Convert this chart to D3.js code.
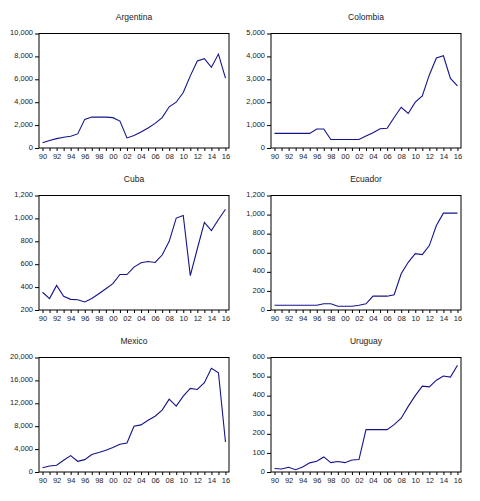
<!DOCTYPE html>
<html>
<head>
<meta charset="utf-8">
<script src="https://cdn.jsdelivr.net/npm/d3@7"></script>
<style>
  body { margin: 0; background: #fff; }
  text { font-family: "Liberation Sans", Arial, sans-serif; fill: #222; }
</style>
</head>
<body>
<div id="chart"></div>
<script>
let svgWidth = 480;
let svgHeight = 501;

// years 1990..2016
let years = d3.range(1990, 2017);
let yearLabels = ["90", "92", "94", "96", "98", "00", "02", "04", "06", "08", "10", "12", "14", "16"];

let countries = ["Argentina", "Colombia", "Cuba", "Ecuador", "Mexico", "Uruguay"];

let argentina = [450, 650, 820, 940, 1030, 1230, 2500, 2700, 2700, 2700, 2650, 2350, 880, 1100, 1400, 1750, 2150, 2650, 3600, 4000, 4850, 6300, 7600, 7800, 7050, 8200, 6100];
let colombia = [640, 640, 640, 640, 640, 640, 830, 830, 370, 370, 370, 370, 370, 520, 670, 840, 860, 1330, 1780, 1510, 2000, 2270, 3190, 3930, 4030, 3040, 2710];
let cuba = [355, 300, 415, 320, 293, 290, 270, 300, 342, 385, 430, 510, 510, 575, 612, 623, 615, 680, 800, 1003, 1025, 500, 735, 965, 893, 990, 1080];
let ecuador = [50, 50, 50, 50, 50, 50, 50, 65, 65, 40, 40, 40, 50, 65, 145, 145, 145, 160, 380, 500, 590, 580, 675, 885, 1015, 1015, 1015];
let mexico = [750, 1050, 1170, 2040, 2860, 1870, 2160, 3040, 3390, 3800, 4260, 4850, 5080, 8000, 8230, 9050, 9750, 10800, 12730, 11500, 13250, 14600, 14420, 15600, 18100, 17340, 5250];
let uruguay = [18, 16, 25, 12, 26, 48, 56, 79, 49, 55, 49, 63, 65, 222, 222, 222, 222, 248, 282, 344, 400, 450, 446, 481, 503, 497, 559];

let seriesValues = [argentina, colombia, cuba, ecuador, mexico, uruguay];

// y axis ranges and ticks per panel
let yDomains = [[0, 10000], [0, 5000], [200, 1200], [0, 1200], [0, 20000], [0, 600]];
let yTicks = [
    [0, 2000, 4000, 6000, 8000, 10000],
    [0, 1000, 2000, 3000, 4000, 5000],
    [200, 400, 600, 800, 1000, 1200],
    [0, 200, 400, 600, 800, 1000, 1200],
    [0, 4000, 8000, 12000, 16000, 20000],
    [0, 100, 200, 300, 400, 500, 600]
];

let svg = d3.select("#chart")
    .append("svg")
    .attr("width", svgWidth)
    .attr("height", svgHeight);

let plotW = 190;
let plotH = 114.5;
let colX = [39, 271];
let rowY = [33.5, 195.5, 357.5];

let fmt = d3.format(",");

countries.forEach(function (name, i) {
    let col = i % 2;
    let row = Math.floor(i / 2);

    let g = svg.append("g")
        .attr("transform", `translate(${colX[col]}, ${rowY[row]})`);

    let x = d3.scaleLinear()
        .domain([1989.5, 2016.5])
        .range([0, plotW]);

    let y = d3.scaleLinear()
        .domain(yDomains[i])
        .range([plotH, 0]);

    // title
    g.append("text")
        .attr("x", plotW / 2)
        .attr("y", -14)
        .attr("text-anchor", "middle")
        .attr("font-size", 8.5)
        .text(name);

    // x axis: tick every year, label even years
    let xAxis = d3.axisBottom(x)
        .tickValues(years)
        .tickSize(3)
        .tickFormat(d => (d % 2 === 0 ? yearLabels[(d - 1990) / 2] : ""));

    let xg = g.append("g")
        .attr("transform", `translate(0, ${plotH})`)
        .call(xAxis);
    xg.select(".domain").remove();
    xg.selectAll("text").attr("font-size", 7.5).attr("dy", "0.65em");

    // y axis
    let yAxis = d3.axisLeft(y)
        .tickValues(yTicks[i])
        .tickSize(4)
        .tickPadding(2)
        .tickFormat(fmt);

    let yg = g.append("g").call(yAxis);
    yg.select(".domain").remove();
    yg.selectAll("text").attr("font-size", 7.5).attr("dy", "0.15em");

    // frame
    g.append("rect")
        .attr("x", 0)
        .attr("y", 0)
        .attr("width", plotW)
        .attr("height", plotH)
        .attr("fill", "none")
        .attr("stroke", "#000")
        .attr("stroke-width", 1);

    let line = d3.line()
        .x((d, j) => x(years[j]))
        .y(d => y(d));

    g.append("path")
        .datum(seriesValues[i])
        .attr("d", line)
        .attr("fill", "none")
        .attr("stroke", "#14148c")
        .attr("stroke-width", 1.1);
});
</script>
</body>
</html>
